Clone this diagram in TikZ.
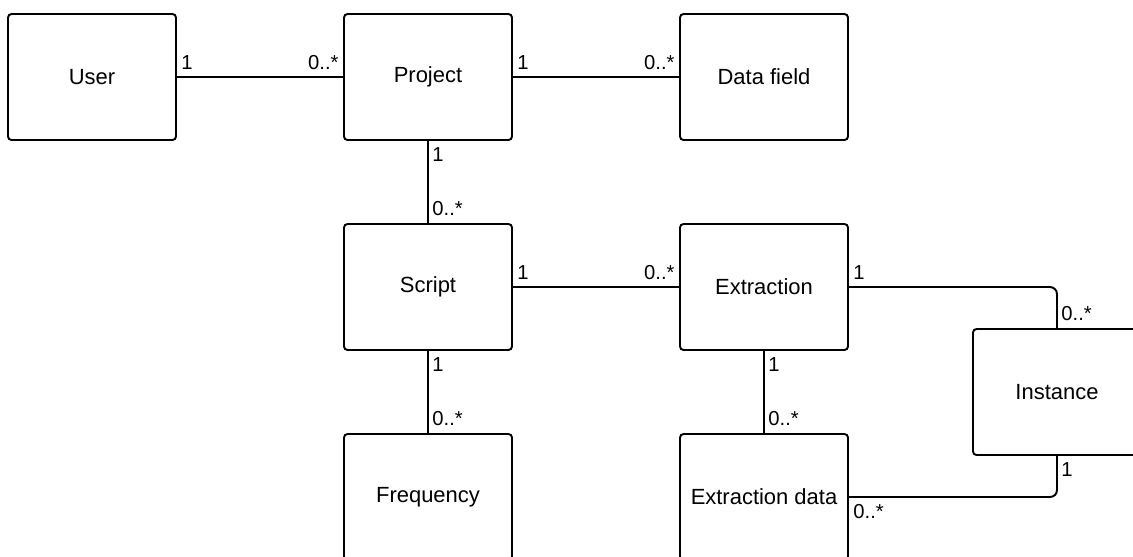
\documentclass[tikz,border=0pt]{standalone}
\usepackage{fontspec}
\setmainfont{Liberation Sans}
\begin{document}
\begin{tikzpicture}[x=0.02cm,y=-0.02cm,line width=1.1pt,
    entity/.style={draw,rounded corners=2pt,minimum width=3.36cm,minimum height=2.52cm,
        font=\fontsize{12.5}{14}\selectfont},
    mult/.style={font=\fontsize{11.5}{13}\selectfont,inner xsep=2pt,inner ysep=3.5pt}]
    % Frame of the picture
    \useasboundingbox (0,0) rectangle (1133,556);
    \clip (0,0) rectangle (1133,556);

    % Entities
    \node[entity] (user) at (92,77) {User};
    \node[entity] (project) at (428,77) {Project};
    \node[entity] (datafield) at (764,77) {Data field};
    \node[entity] (script) at (428,287) {Script};
    \node[entity] (extraction) at (764,287) {Extraction};
    \node[entity] (frequency) at (428,497) {Frequency};
    \node[entity] (extrdata) at (764,497) {Extraction data};
    \node[entity] (instance) at (1057,392) {Instance};

    % Top row
    \draw (user) -- (project)
        node[mult,pos=0,above right] {1}
        node[mult,pos=1,above left] {0..*};
    \draw (project) -- (datafield)
        node[mult,pos=0,above right] {1}
        node[mult,pos=1,above left] {0..*};

    % Project to script
    \draw (project) -- (script)
        node[mult,pos=0,below right] {1}
        node[mult,pos=1,above right] {0..*};

    % Middle row
    \draw (script) -- (extraction)
        node[mult,pos=0,above right] {1}
        node[mult,pos=1,above left] {0..*};
    \draw (script) -- (frequency)
        node[mult,pos=0,below right] {1}
        node[mult,pos=1,above right] {0..*};
    \draw (extraction) -- (extrdata)
        node[mult,pos=0,below right] {1}
        node[mult,pos=1,above right] {0..*};

    % Instance links
    \draw[rounded corners=4pt] (extraction.east) -| (instance.north)
        node[mult,pos=0,above right] {1}
        node[mult,pos=1,above right] {0..*};
    \draw[rounded corners=4pt] (extrdata.east) -| (instance.south)
        node[mult,pos=0,below right] {0..*}
        node[mult,pos=1,below right] {1};
\end{tikzpicture}
\end{document}
